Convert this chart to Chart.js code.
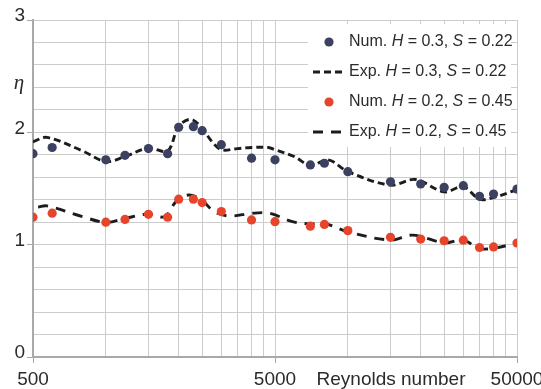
<!DOCTYPE html>
<html>
<head>
<meta charset="utf-8">
<script src="https://cdn.jsdelivr.net/npm/chart.js@4.4.1/dist/chart.umd.min.js"></script>
<style>
  html, body { margin: 0; padding: 0; background: #ffffff; }
  #wrap { width: 541px; height: 389px; }
</style>
</head>
<body>
<div id="wrap"><canvas id="c" width="541" height="389"></canvas></div>
<script>
// ---- data ----
const reNum = [500, 600, 1000, 1200, 1500, 1800, 2000, 2300, 2500, 3000, 4000, 5000, 7000, 8000, 10000, 15000, 20000, 25000, 30000, 35000, 40000, 50000];
const numH03 = [1.81, 1.865, 1.755, 1.795, 1.855, 1.81, 2.045, 2.05, 2.015, 1.89, 1.77, 1.755, 1.71, 1.725, 1.65, 1.56, 1.54, 1.51, 1.525, 1.43, 1.45, 1.495];
const numH02 = [1.245, 1.28, 1.2, 1.225, 1.27, 1.245, 1.405, 1.405, 1.375, 1.295, 1.22, 1.205, 1.165, 1.18, 1.125, 1.065, 1.05, 1.035, 1.04, 0.975, 0.98, 1.015];

const reExpH03 = [500, 570, 800, 1000, 1200, 1500, 1800, 2000, 2250, 2500, 2750, 3000, 3500, 4000, 4700, 5000, 6000, 7000, 8300, 10000, 15000, 19000, 25000, 30000, 35000, 40000, 50000];
const expH03 = [1.915, 1.955, 1.835, 1.74, 1.785, 1.86, 1.835, 2.055, 2.115, 2.035, 1.915, 1.845, 1.855, 1.865, 1.865, 1.845, 1.785, 1.705, 1.755, 1.65, 1.53, 1.58, 1.47, 1.515, 1.405, 1.42, 1.49];

const reExpH02 = [525, 570, 800, 1000, 1200, 1500, 1750, 1950, 2200, 2500, 2800, 3250, 4000, 4750, 5900, 7000, 8000, 10000, 15000, 18500, 25000, 30000, 35000, 41000, 50000];
const expH02 = [1.335, 1.345, 1.25, 1.198, 1.234, 1.273, 1.249, 1.383, 1.442, 1.392, 1.295, 1.255, 1.279, 1.279, 1.205, 1.185, 1.19, 1.115, 1.041, 1.085, 1.017, 1.041, 0.965, 0.972, 1.017];

const xGridTicks = [500, 1000, 1500, 2000, 2500, 3000, 3500, 4000, 4500, 5000, 10000, 15000, 20000, 25000, 30000, 35000, 40000, 45000, 50000];
const xTickLabels = [500, 5000, 50000];
const yTickLabels = [0, 1, 2, 3];
const xTitle = 'Reynolds number';
const yTitle = 'η';
const seriesLabels = ['Num. H = 0.3, S = 0.22', 'Exp. H = 0.3, S = 0.22', 'Num. H = 0.2, S = 0.45', 'Exp. H = 0.2, S = 0.45'];

// ---- styles ----
const BLUE = '#3c4162';
const RED = '#e6452c';
const DARK = '#1c1c1c';
const TEXT = '#2b2b2b';
const GRID = '#cccccc';
const AXIS = '#a9a9a9';
const SANS = '"Liberation Sans", Arial, Helvetica, sans-serif';
const SERIF = '"Liberation Serif", "DejaVu Serif", serif';

const pts = (xs, ys) => xs.map((x, i) => ({ x: x, y: ys[i] }));

const overlay = {
  id: 'overlay',
  afterDraw(chart) {
    const ctx = chart.ctx;
    const xs = chart.scales.x, ys = chart.scales.y;
    ctx.save();
    ctx.fillStyle = TEXT;
    ctx.font = '19px ' + SANS;
    ctx.textBaseline = 'middle';
    ctx.textAlign = 'center';
    xTickLabels.forEach(v => ctx.fillText(String(v), xs.getPixelForValue(v), 380));
    ctx.fillText(xTitle, 391, 380);
    ctx.textAlign = 'right';
    yTickLabels.forEach(v => ctx.fillText(String(v), 25, ys.getPixelForValue(v) - 4));
    ctx.textAlign = 'center';
    ctx.font = 'italic 21px ' + SERIF;
    ctx.fillText(yTitle, 19, 83);

    // legend
    ctx.fillStyle = '#ffffff';
    ctx.fillRect(308, 24, 203, 123);
    chart.data.datasets.forEach((ds, i) => {
      const cy = 42 + i * 30;
      if (ds.showLine === false) {
        ctx.beginPath();
        ctx.fillStyle = ds.backgroundColor;
        ctx.arc(329, cy, 4.6, 0, Math.PI * 2);
        ctx.fill();
      } else {
        ctx.beginPath();
        ctx.strokeStyle = ds.borderColor;
        ctx.lineWidth = ds.borderWidth;
        ctx.setLineDash(ds.borderDash);
        ctx.moveTo(313, cy);
        ctx.lineTo(342, cy);
        ctx.stroke();
        ctx.setLineDash([]);
      }
      ctx.fillStyle = TEXT;
      ctx.textAlign = 'left';
      let x = 349;
      ds.label.split(/(\bH\b|\bS\b)/).forEach(part => {
        if (!part) return;
        const it = (part === 'H' || part === 'S');
        ctx.font = (it ? 'italic ' : '') + '16px ' + SANS;
        ctx.fillText(part, x, cy);
        x += ctx.measureText(part).width;
      });
    });
    ctx.restore();
  }
};

new Chart(document.getElementById('c'), {
  type: 'line',
  data: {
    datasets: [
      { label: seriesLabels[0], data: pts(reNum, numH03), showLine: false, pointRadius: 4.6, pointBackgroundColor: BLUE, backgroundColor: BLUE, pointBorderWidth: 0, order: 0 },
      { label: seriesLabels[1], data: pts(reExpH03, expH03), borderColor: DARK, borderWidth: 2.9, borderDash: [7, 4], pointRadius: 0, tension: 0.35, fill: false, order: 1 },
      { label: seriesLabels[2], data: pts(reNum, numH02), showLine: false, pointRadius: 4.6, pointBackgroundColor: RED, backgroundColor: RED, pointBorderWidth: 0, order: 0 },
      { label: seriesLabels[3], data: pts(reExpH02, expH02), borderColor: DARK, borderWidth: 2.9, borderDash: [10, 8], pointRadius: 0, tension: 0.35, fill: false, order: 1 }
    ]
  },
  options: {
    responsive: false,
    animation: false,
    devicePixelRatio: 1,
    layout: { padding: { top: 20, right: 24, left: 0, bottom: 0 } },
    plugins: { legend: { display: false }, tooltip: { enabled: false } },
    scales: {
      x: {
        type: 'logarithmic', min: 500, max: 50000,
        afterBuildTicks: s => { s.ticks = xGridTicks.map(v => ({ value: v })); },
        afterFit: s => { s.height = 32; },
        ticks: { display: false },
        grid: {
          color: GRID, lineWidth: 1, tickLength: 6,
          tickColor: c => (xTickLabels.includes(c.tick.value) ? AXIS : 'rgba(0,0,0,0)')
        },
        border: { color: AXIS, width: 2 }
      },
      y: {
        min: 0, max: 3,
        ticks: { display: false, stepSize: 0.2 },
        afterFit: s => { s.width = 33; },
        grid: {
          color: GRID, lineWidth: 1, tickLength: 6,
          tickColor: c => (Math.abs(c.tick.value - Math.round(c.tick.value)) < 1e-6 ? AXIS : 'rgba(0,0,0,0)')
        },
        border: { color: AXIS, width: 2 }
      }
    }
  },
  plugins: [overlay]
});
</script>
</body>
</html>
